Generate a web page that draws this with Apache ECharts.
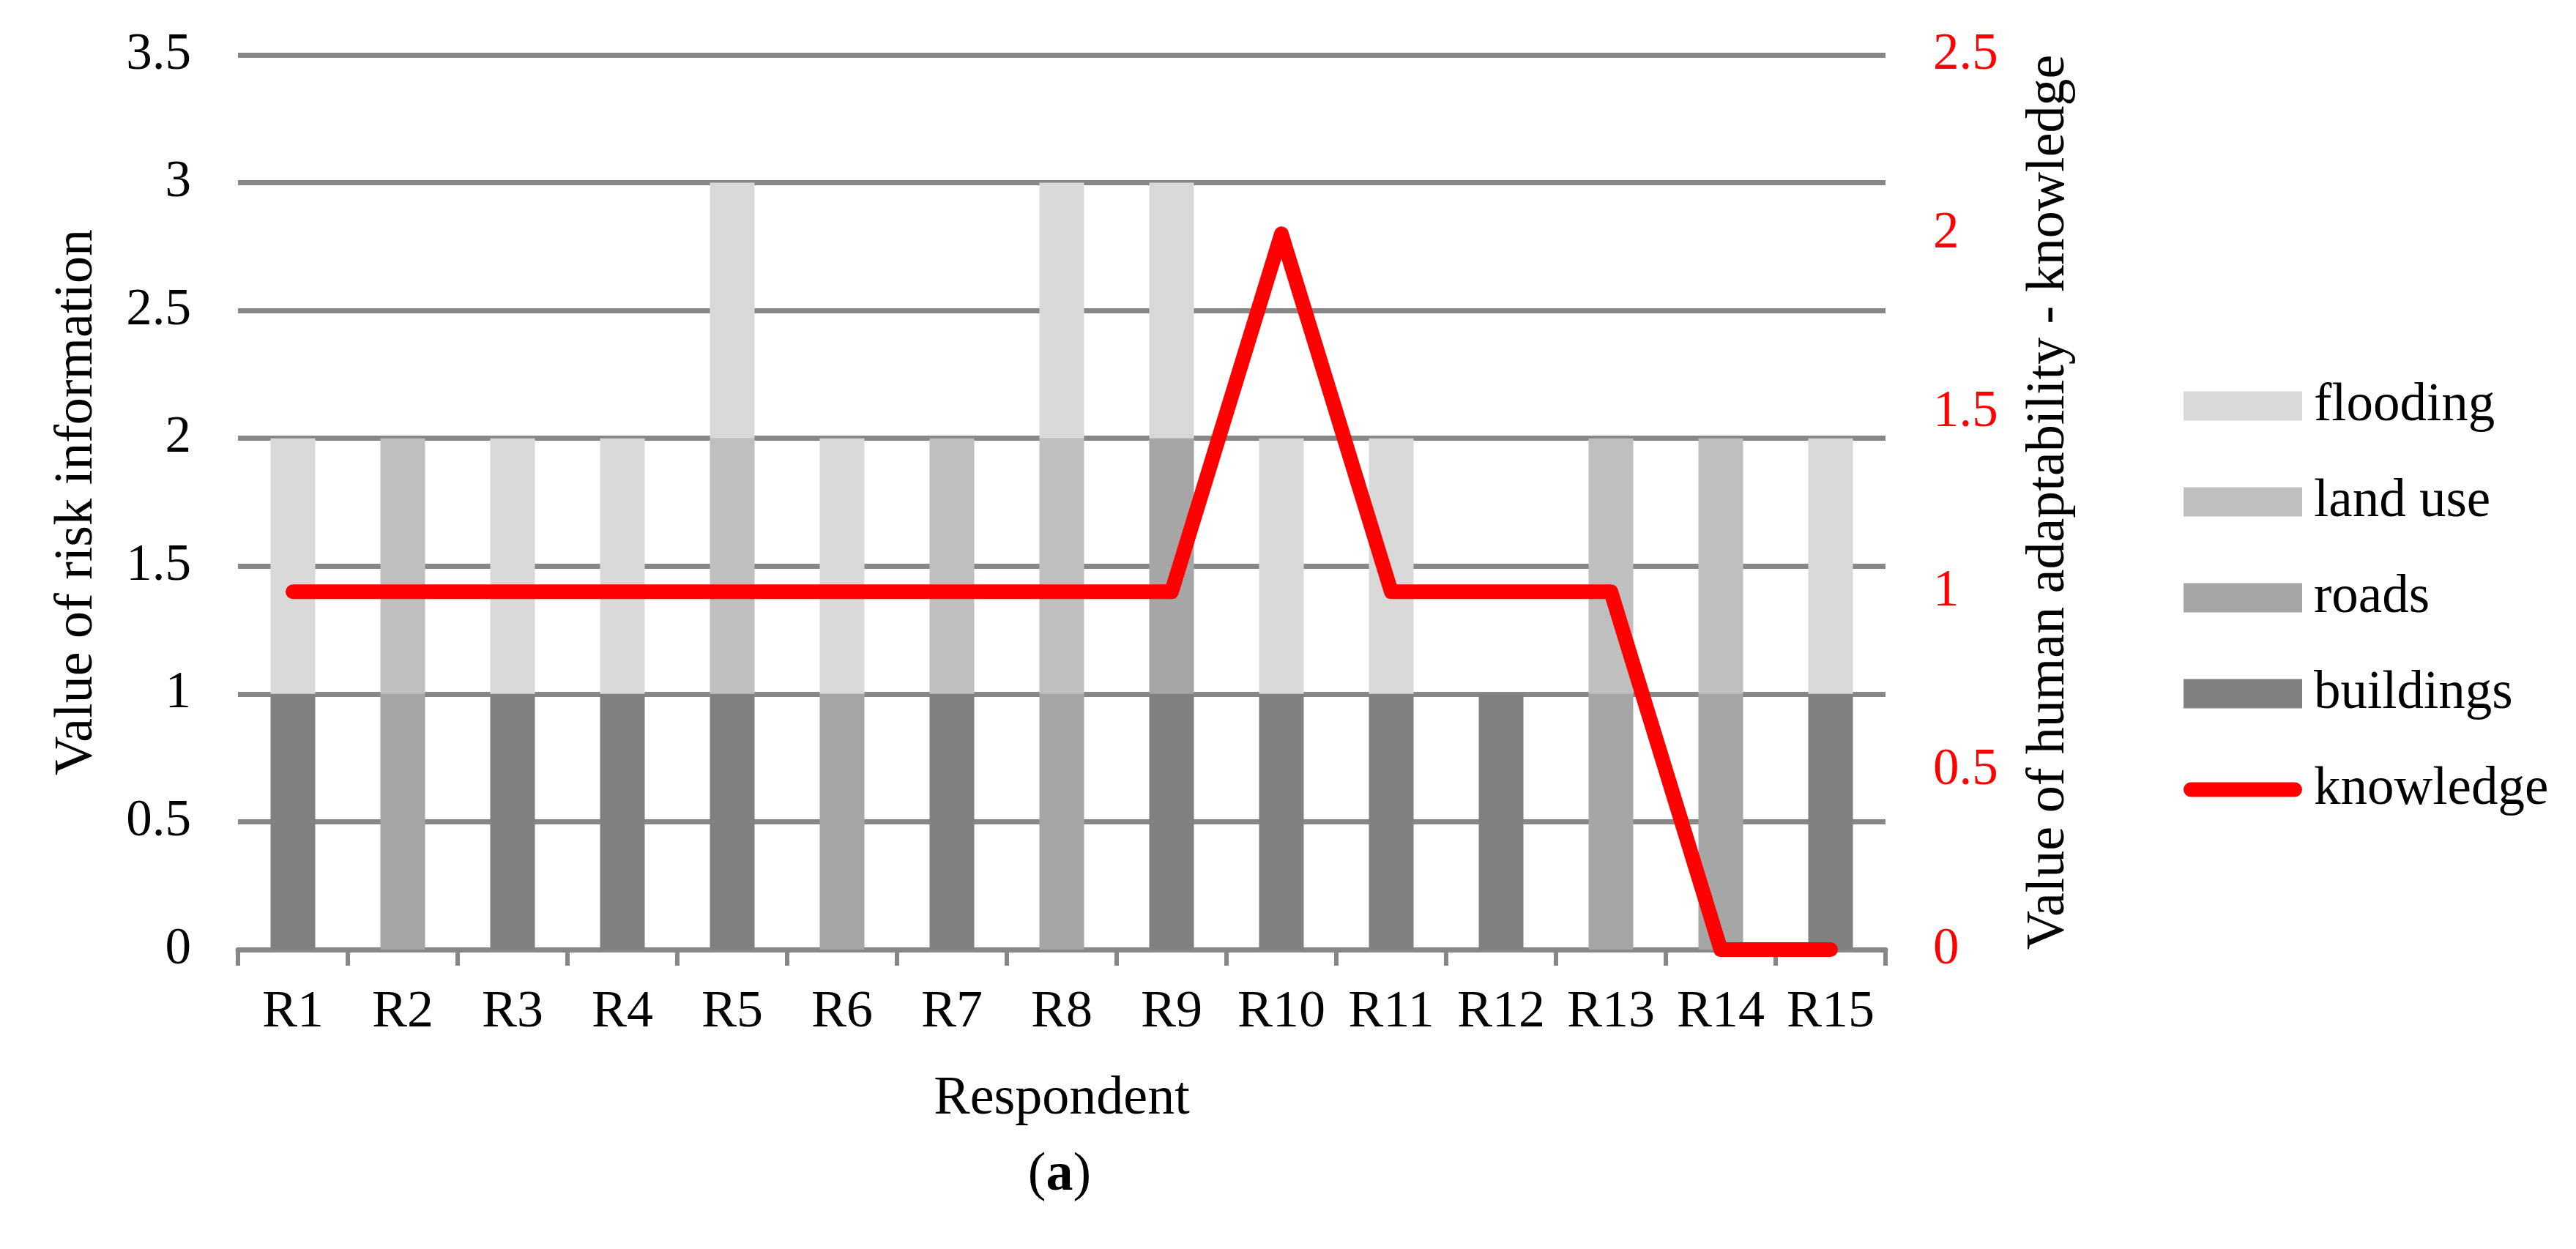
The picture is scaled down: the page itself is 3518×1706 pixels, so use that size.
<!DOCTYPE html>
<html>
<head>
<meta charset="utf-8">
<script src="https://cdn.jsdelivr.net/npm/echarts@6/dist/echarts.min.js"></script>
<style>
html,body{margin:0;padding:0;background:#fff;}
#chart{width:3518px;height:1706px;}
</style>
</head>
<body>
<div id="chart"></div>
<script>
const categories = ['R1','R2','R3','R4','R5','R6','R7','R8','R9','R10','R11','R12','R13','R14','R15'];
const buildings = [1,0,1,1,1,0,1,0,1,1,1,1,0,0,1];
const roads     = [0,1,0,0,0,1,0,1,1,0,0,0,1,1,0];
const landUse   = [0,1,0,0,1,0,1,1,0,0,0,0,1,1,0];
const flooding  = [1,0,1,1,1,1,0,1,1,1,1,0,0,0,1];
const knowledge = [1,1,1,1,1,1,1,1,1,2,1,1,1,0,0];
const leftTicks = {min:0, max:3.5, interval:0.5};
const rightTicks = {min:0, max:2.5, interval:0.5};

const FONT = "'Liberation Serif','Times New Roman',serif";
const GRID_COLOR = '#878787';
const RED = '#ff0000';

const chart = echarts.init(document.getElementById('chart'));
const barBase = {type:'bar', stack:'risk', barWidth:61, yAxisIndex:0};
chart.setOption({
  animation:false,
  backgroundColor:'#ffffff',
  textStyle:{fontFamily:FONT},
  grid:{left:325, right:943, top:75, bottom:409, containLabel:false},
  legend:{
    orient:'vertical', left:2977, top:513,
    itemWidth:162, itemHeight:40, itemGap:58,
    textStyle:{fontFamily:FONT, fontSize:73, color:'#000', lineHeight:73, padding:[0,0,0,11]},
    data:[
      {name:'flooding', icon:'rect'},
      {name:'land use', icon:'rect'},
      {name:'roads', icon:'rect'},
      {name:'buildings', icon:'rect'},
      {name:'knowledge', icon:'path://M10,0 H152 A10,10 0 0 1 152,20 H10 A10,10 0 0 1 10,0 Z', itemStyle:{color:RED}}
    ]
  },
  xAxis:{
    type:'category', data:categories,
    name:'Respondent', nameLocation:'middle', nameGap:168,
    nameTextStyle:{fontFamily:FONT, fontSize:74, color:'#000'},
    axisLine:{show:true, lineStyle:{color:GRID_COLOR, width:7}},
    axisTick:{show:true, length:22, lineStyle:{color:GRID_COLOR, width:6}},
    axisLabel:{fontFamily:FONT, fontSize:72, color:'#000', margin:50, interval:0}
  },
  yAxis:[
    {
      type:'value', min:leftTicks.min, max:leftTicks.max, interval:leftTicks.interval,
      name:'Value of risk information', nameLocation:'middle', nameRotate:90, nameGap:182,
      nameTextStyle:{fontFamily:FONT, fontSize:74, color:'#000'},
      axisLine:{show:false}, axisTick:{show:false},
      axisLabel:{fontFamily:FONT, fontSize:71, color:'#000', margin:64},
      splitLine:{show:true, lineStyle:{color:GRID_COLOR, width:7}}
    },
    {
      type:'value', min:rightTicks.min, max:rightTicks.max, interval:rightTicks.interval,
      position:'right',
      name:'Value of human adaptability - knowledge', nameLocation:'middle', nameRotate:90, nameGap:187,
      nameTextStyle:{fontFamily:FONT, fontSize:74, color:'#000'},
      axisLine:{show:false}, axisTick:{show:false},
      axisLabel:{fontFamily:FONT, fontSize:71, color:RED, margin:65},
      splitLine:{show:false}
    }
  ],
  series:[
    Object.assign({name:'buildings', data:buildings, itemStyle:{color:'#808080'}}, barBase),
    Object.assign({name:'roads', data:roads, itemStyle:{color:'#a6a6a6'}}, barBase),
    Object.assign({name:'land use', data:landUse, itemStyle:{color:'#bfbfbf'}}, barBase),
    Object.assign({name:'flooding', data:flooding, itemStyle:{color:'#d9d9d9'}}, barBase),
    {
      name:'knowledge', type:'line', yAxisIndex:1, data:knowledge,
      symbol:'none', z:10,
      lineStyle:{color:RED, width:20, cap:'round', join:'round'},
      itemStyle:{color:RED}
    }
  ],
  graphic:[
    {
      type:'text', x:1447, y:1606,
      style:{
        text:'({b|a})', align:'center', verticalAlign:'middle',
        font:"74px 'Liberation Serif', serif", fill:'#000',
        rich:{b:{fontFamily:FONT, fontSize:74, fontWeight:'bold', fill:'#000'}}
      }
    }
  ]
});
</script>
</body>
</html>
